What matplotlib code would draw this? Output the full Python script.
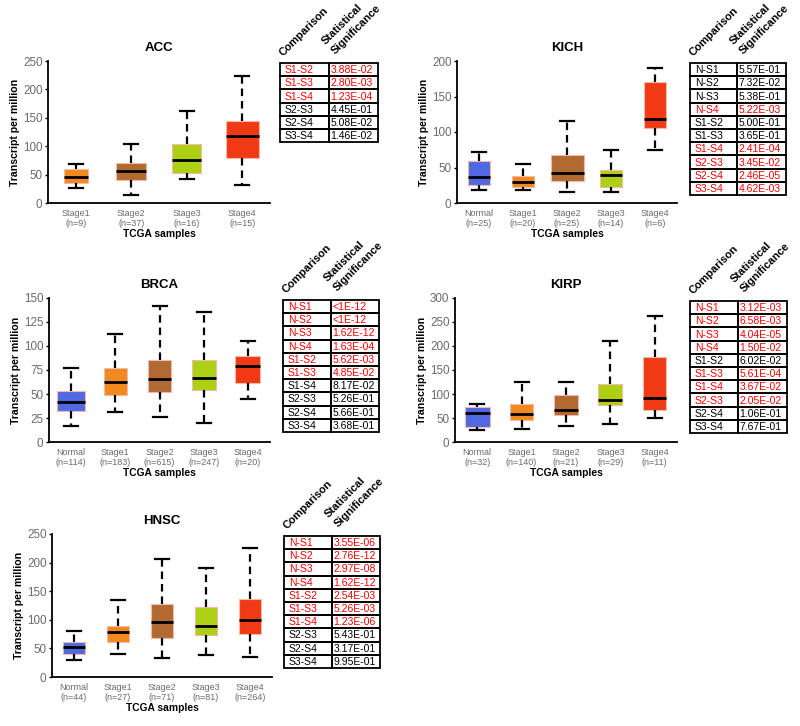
import matplotlib
matplotlib.use("Agg")
import matplotlib.pyplot as plt
from matplotlib.patches import Rectangle

plt.rcParams['font.family'] = ['Liberation Sans', 'DejaVu Sans']

W, H = 800, 726

# ---------------- data ----------------
groups5 = ["Normal", "Stage1", "Stage2", "Stage3", "Stage4"]
groups4 = ["Stage1", "Stage2", "Stage3", "Stage4"]

# each box: [whisker_low, q1, median, q3, whisker_high]
acc_boxes = [[27, 35, 46, 59, 68], [14, 40, 56, 70, 103], [42, 52, 75, 104, 162], [32, 80, 118, 144, 223]]
acc_n = [9, 37, 16, 15]
kich_boxes = [[19, 25, 37, 59, 72], [18, 23, 29, 38, 55], [16, 31, 42, 67, 115], [15, 23, 39, 47, 75], [74, 105, 118, 170, 190]]
kich_n = [25, 20, 25, 14, 6]
brca_boxes = [[17, 32, 42, 53, 77], [31, 49, 62, 77, 113], [26, 52, 66, 85, 142], [20, 54, 67, 85, 135], [45, 61, 79, 90, 105]]
brca_n = [114, 183, 615, 247, 20]
kirp_boxes = [[26, 32, 60, 73, 80], [27, 46, 58, 79, 126], [33, 56, 67, 97, 126], [38, 77, 88, 120, 210], [51, 67, 92, 178, 262]]
kirp_n = [32, 140, 21, 29, 11]
hnsc_boxes = [[29, 41, 52, 62, 80], [40, 62, 78, 90, 135], [34, 68, 96, 127, 206], [38, 74, 90, 122, 191], [35, 75, 99, 136, 225]]
hnsc_n = [44, 27, 71, 81, 264]

acc_cmp = ["S1-S2", "S1-S3", "S1-S4", "S2-S3", "S2-S4", "S3-S4"]
acc_p = ["3.88E-02", "2.80E-03", "1.23E-04", "4.45E-01", "5.08E-02", "1.46E-02"]
acc_sig = [1, 1, 1, 0, 0, 0]

cmp10 = ["N-S1", "N-S2", "N-S3", "N-S4", "S1-S2", "S1-S3", "S1-S4", "S2-S3", "S2-S4", "S3-S4"]
kich_p = ["5.57E-01", "7.32E-02", "5.38E-01", "5.22E-03", "5.00E-01", "3.65E-01", "2.41E-04", "3.45E-02", "2.46E-05", "4.62E-03"]
kich_sig = [0, 0, 0, 1, 0, 0, 1, 1, 1, 1]
brca_p = ["<1E-12", "<1E-12", "1.62E-12", "1.63E-04", "5.62E-03", "4.85E-02", "8.17E-02", "5.26E-01", "5.66E-01", "3.68E-01"]
brca_sig = [1, 1, 1, 1, 1, 1, 0, 0, 0, 0]
kirp_p = ["3.12E-03", "6.58E-03", "4.04E-05", "1.50E-02", "6.02E-02", "5.61E-04", "3.67E-02", "2.05E-02", "1.06E-01", "7.67E-01"]
kirp_sig = [1, 1, 1, 1, 0, 1, 1, 1, 0, 0]
hnsc_p = ["3.55E-06", "2.76E-12", "2.97E-08", "1.62E-12", "2.54E-03", "5.26E-03", "1.23E-06", "5.43E-01", "3.17E-01", "9.95E-01"]
hnsc_sig = [1, 1, 1, 1, 1, 1, 1, 0, 0, 0]

# ---------------- styles ----------------
group_colors = {"Normal": "#5068E2", "Stage1": "#F08A1E", "Stage2": "#B06A32",
                "Stage3": "#ADD012", "Stage4": "#F03A14"}

panels = [
    dict(title="ACC", groups=groups4, boxes=acc_boxes, n=acc_n, ymax=250, step=50,
         px=(48, 270, 61, 203), widths=[0.43, 0.54, 0.52, 0.6],
         table=dict(cmp=acc_cmp, p=acc_p, sig=acc_sig, left=280, mid=329, right=378, top=63)),
    dict(title="KICH", groups=groups5, boxes=kich_boxes, n=kich_n, ymax=200, step=50,
         px=(457, 677, 61, 203), widths=[0.52, 0.52, 0.75, 0.52, 0.52],
         table=dict(cmp=cmp10, p=kich_p, sig=kich_sig, left=690, mid=737, right=786, top=63)),
    dict(title="BRCA", groups=groups5, boxes=brca_boxes, n=brca_n, ymax=150, step=25,
         px=(49, 270, 298, 442), widths=[0.63, 0.52, 0.52, 0.54, 0.57],
         table=dict(cmp=cmp10, p=brca_p, sig=brca_sig, left=283, mid=331, right=379, top=300)),
    dict(title="KIRP", groups=groups5, boxes=kirp_boxes, n=kirp_n, ymax=300, step=50,
         px=(455, 677, 298, 442), widths=[0.56, 0.52, 0.52, 0.54, 0.52],
         table=dict(cmp=cmp10, p=kirp_p, sig=kirp_sig, left=690, mid=738, right=787, top=301)),
    dict(title="HNSC", groups=groups5, boxes=hnsc_boxes, n=hnsc_n, ymax=250, step=50,
         px=(52, 272, 534, 677), widths=[0.52, 0.52, 0.52, 0.52, 0.52],
         table=dict(cmp=cmp10, p=hnsc_p, sig=hnsc_sig, left=284, mid=332, right=380, top=536)),
]

fig = plt.figure(figsize=(W / 100, H / 100), dpi=100)

ROW_H = 13.2
gray = "#6b6b6b"
CAP_HALF_PX = 7.0

for pnl in panels:
    l, r, t, b = pnl["px"]
    ax = fig.add_axes([l / W, 1 - b / H, (r - l) / W, (b - t) / H])
    stats = []
    for g, bx, nn in zip(pnl["groups"], pnl["boxes"], pnl["n"]):
        stats.append(dict(whislo=bx[0], q1=bx[1], med=bx[2], q3=bx[3], whishi=bx[4],
                          fliers=[], label=f"{g}\n(n={nn})"))
    pos = list(range(1, len(stats) + 1))
    bp = ax.bxp(stats, positions=pos, widths=pnl["widths"], patch_artist=True,
                showfliers=False,
                boxprops=dict(linewidth=0.8),
                medianprops=dict(color="black", linewidth=2.0),
                whiskerprops=dict(color="black", linewidth=1.6, linestyle=(0, (3.4, 2.2))),
                capprops=dict(color="black", linewidth=1.6))
    for patch, g in zip(bp["boxes"], pnl["groups"]):
        patch.set_facecolor(group_colors[g])
        patch.set_edgecolor("#f4b9a8")
    spacing_px = (r - l) / len(stats)
    half = CAP_HALF_PX / spacing_px
    for cap in bp["caps"]:
        xd = cap.get_xdata()
        c = (xd[0] + xd[1]) / 2
        cap.set_xdata([c - half, c + half])
    ax.set_xlim(0.5, len(stats) + 0.5)
    ax.set_ylim(0, pnl["ymax"])
    ax.set_yticks(range(0, pnl["ymax"] + 1, pnl["step"]))
    for s in ("top", "right"):
        ax.spines[s].set_visible(False)
    ax.spines["left"].set_linewidth(1.3)
    ax.spines["bottom"].set_linewidth(1.3)
    ax.tick_params(axis="y", length=2.5, width=1, labelsize=8.4, labelcolor=gray, pad=1.5)
    ax.tick_params(axis="x", length=0, labelsize=6.5, labelcolor=gray, pad=4)
    for lab in ax.get_xticklabels():
        lab.set_linespacing(1.2)
    ax.set_title(pnl["title"], fontsize=9.5, fontweight="bold", pad=7)
    ax.set_ylabel("Transcript per million", fontsize=7.6, fontweight="bold", labelpad=2)
    ax.set_xlabel("TCGA samples", fontsize=7.4, fontweight="bold", labelpad=0.5)

# ---------------- tables (overlay in pixel coords) ----------------
ov = fig.add_axes([0, 0, 1, 1], zorder=5)
ov.set_xlim(0, W)
ov.set_ylim(H, 0)
ov.axis("off")
ov.patch.set_alpha(0)

for pnl in panels:
    tb = pnl["table"]
    L, M, R, T = tb["left"], tb["mid"], tb["right"], tb["top"]
    for i, (c, p, s) in enumerate(zip(tb["cmp"], tb["p"], tb["sig"])):
        y0 = T + i * ROW_H
        col = "#ff0000" if s else "black"
        ov.add_patch(Rectangle((L, y0), M - L, ROW_H, fill=False, edgecolor="black", lw=1.3))
        ov.add_patch(Rectangle((M, y0), R - M, ROW_H, fill=False, edgecolor="black", lw=1.3))
        ov.text(L + 5, y0 + ROW_H / 2 + 0.5, c, fontsize=7.5, color=col, ha="left", va="center")
        ov.text(M + 1.5, y0 + ROW_H / 2 + 0.5, p, fontsize=7.5, color=col, ha="left", va="center")
    ov.text(L + 3, T - 6, "Comparison", rotation=45, rotation_mode="anchor",
            ha="left", va="baseline", fontsize=7.9, fontweight="bold")
    ov.text(M + 6, T - 8, "Significance", rotation=45, rotation_mode="anchor",
            ha="left", va="baseline", fontsize=7.9, fontweight="bold")
    ov.text(M - 3, T - 18, "Statistical", rotation=45, rotation_mode="anchor",
            ha="left", va="baseline", fontsize=7.9, fontweight="bold")

fig.savefig("out.png", dpi=100)
